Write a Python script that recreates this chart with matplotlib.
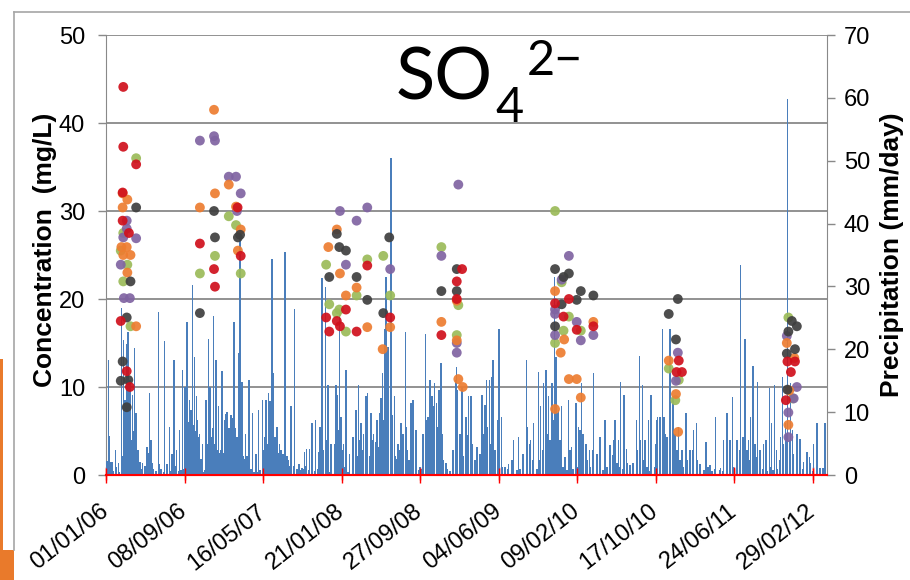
import matplotlib
matplotlib.use('Agg')
import matplotlib.pyplot as plt
import matplotlib.dates as mdates
import pandas as pd
from matplotlib.patches import Rectangle
from matplotlib.lines import Line2D

plt.rcParams['font.family'] = ['Liberation Sans', 'DejaVu Sans']

START = pd.Timestamp('2006-01-01')
X_END_DAY = 2296
DATE_TICK_DAYS = [0, 250, 500, 750, 1000, 1250, 1500, 1750, 2000, 2250]
CONC_TICKS = [0, 10, 20, 30, 40, 50]
PRECIP_TICKS = [0, 10, 20, 30, 40, 50, 60, 70]

# daily precipitation (mm/day), day offset from 01/01/06 -- main rain events
precip_day = [
    8, 11, 21, 30, 40, 49, 55, 60, 66, 70, 76, 85, 91, 96, 102, 117, 130, 138, 143, 149,
    168, 175, 187, 196, 202, 210, 217, 225, 234, 244, 252, 258, 265, 271, 276, 281, 289,
    297, 308, 318, 327, 331, 342, 350, 359, 369, 377, 382, 387, 395, 403, 408, 416, 423,
    427, 433, 444, 456, 467, 478, 486, 499, 510, 517, 522, 529, 533, 544, 552, 563, 570,
    579,
    589, 600, 614, 624, 632, 639, 648, 656, 667, 677, 688, 699, 703, 707, 717, 727, 733,
    738, 743, 749, 756, 764, 775, 786, 796, 805, 812, 820, 828, 833, 844, 851, 858, 866,
    876, 881, 887, 892, 898, 907, 913, 919, 930, 940, 945, 953, 961, 971, 977, 987, 1000,
    1009, 1017, 1025, 1032, 1038, 1046, 1053, 1060, 1067, 1072, 1083, 1104, 1113, 1117,
    1120, 1125, 1134, 1136, 1147, 1149, 1155,
    1162, 1181, 1197, 1207, 1212, 1221, 1228, 1232, 1239, 1252, 1260, 1271, 1282, 1297,
    1313, 1327, 1340, 1351, 1361, 1377, 1384, 1393, 1401, 1409, 1420, 1428, 1433, 1441,
    1451, 1462, 1473, 1483, 1497, 1504, 1515, 1529, 1539, 1552, 1563, 1573,
    1589, 1605, 1616, 1621, 1632, 1639, 1650, 1658, 1669, 1677, 1690, 1699, 1709, 1717,
    1727, 1735, 1749, 1756, 1762, 1772, 1777, 1786, 1796, 1805, 1812, 1823, 1834, 1847,
    1860, 1871, 1881, 1892, 1911, 1924, 1940, 1956, 1966, 1977, 1987, 1996, 2009, 2021,
    2028, 2035, 2046, 2053, 2060, 2067, 2075, 2083, 2094, 2102, 2113, 2120, 2128, 2136,
    2147, 2155, 2163, 2170, 2179, 2187, 2200, 2210, 2221, 2232, 2240, 2253, 2264, 2274,
    2283, 2290,
]
precip_mm = [
    18.3, 6.2, 2.1, 3.9, 1.9, 26.5, 21.5, 11.9, 20.8, 22.8, 15.1, 12.7, 20.2, 9.8, 3.3, 1.9, 4.3, 13.1, 5.6, 1.9,
    25.9, 1.0, 21.3, 1.6, 7.7, 3.4, 18.3, 4.0, 7.2, 16.7, 14.0, 24.4, 11.9, 10.3, 30.2, 18.8, 12.5,
    6.6, 5.0, 11.9, 21.7, 14.0, 25.3, 18.3, 10.9, 16.6, 8.8, 9.7, 4.5, 7.2, 7.7, 24.4, 5.6, 19.4,
    38.4, 14.8, 6.6, 15.1, 9.8, 3.4, 10.3, 11.9, 11.9, 13.0, 11.7, 34.3, 16.2, 7.7, 5.0, 3.4, 35.4,
    2.4,
    10.9, 26.4, 1.8, 1.1, 3.7, 4.2, 4.2, 8.2, 8.8, 3.7, 31.4, 29.9, 5.6, 14.3, 5.0, 5.0, 14.3,
    12.7, 26.2, 9.3, 5.0, 16.7, 3.4, 6.1, 10.3, 14.3, 8.2, 6.6, 12.5, 13.0, 9.8, 6.6, 5.3, 4.5,
    12.3, 16.3, 23.3, 31.5, 20.4, 50.5, 9.5, 12.5, 5.0, 8.2, 6.1, 22.8, 4.0, 11.4, 11.9, 4.0, 1.3,
    4.0, 22.4, 9.3, 15.1, 12.5, 14.6, 11.4, 13.5, 17.8, 6.6, 1.9, 4.0, 15.1, 17.2,
    13.5, 4.0, 14.0, 6.1, 9.3, 6.4, 12.5,
    12.5, 4.5, 12.7, 11.1, 15.1, 15.1, 15.6, 18.3, 4.0, 23.3, 9.3, 1.3, 1.8, 5.6,
    6.1, 1.6, 18.3, 5.6, 8.2, 16.4, 10.9, 14.6, 16.7, 12.5, 14.6, 31.5, 18.8, 10.3,
    10.9, 2.9, 11.9, 4.5, 11.4, 7.7, 14.6, 5.0, 4.0, 16.3, 3.4, 6.1,
    8.7, 4.8, 5.6, 8.7, 5.6, 14.8, 12.7, 4.2, 1.6, 1.8, 8.7, 18.9, 14.3, 5.6,
    8.7, 12.7, 5.0, 9.3, 9.3, 23.3, 9.3, 6.1, 23.3, 12.2, 4.0, 7.7, 4.0, 9.8,
    4.0, 7.2, 8.2, 1.8, 5.3, 1.6, 9.3, 1.1, 5.6, 9.8, 5.6, 12.4, 5.6, 33.4,
    6.1, 21.7, 5.6, 9.3, 17.3, 5.0, 14.8, 4.0, 5.0, 5.6, 13.8, 8.2, 14.3, 4.0,
    6.1, 15.6, 8.2, 59.8, 14.6, 7.2, 6.6, 5.8, 2.1, 3.7, 2.9, 5.0, 8.2, 1.1,
    1.1, 8.2,
]

# daily precipitation (mm/day) -- the many small rain days between the events
light_day = [
    3, 10, 16, 22, 32, 41, 51, 57, 64, 70, 76, 83, 89, 96, 102, 108, 115, 124, 131, 137,
    143, 150, 159, 169, 175, 185, 194, 204, 213, 223, 233, 239, 248, 258, 264, 271, 277,
    283, 290, 296, 303, 309, 315, 322, 328, 334, 341, 347, 354, 360, 366, 373, 379, 385,
    392, 398, 404, 411, 417, 424, 430, 436, 443, 449, 455, 462, 471, 481, 490, 500, 506,
    513, 519, 526, 532, 538, 545, 551, 557, 564, 570, 576, 583, 589, 599, 608, 618, 627,
    637, 647, 656, 666, 675,
    682, 691, 704, 713, 729, 736, 739, 745, 752, 758, 771, 787, 799, 809, 819, 831, 841,
    850, 863, 873, 879, 882, 889, 898, 911, 920, 927, 936, 946, 956, 965, 978, 987, 997,
    1006, 1010, 1022, 1032, 1041, 1054, 1064, 1073, 1086, 1096, 1105, 1118, 1127, 1137,
    1150, 1166, 1175, 1191, 1201, 1213, 1223, 1229, 1239, 1249, 1261, 1271, 1280, 1293,
    1309, 1319, 1328, 1341, 1350, 1360, 1373, 1382, 1392, 1405, 1414, 1424, 1436, 1446,
    1456, 1468, 1478, 1487, 1500,
    1510, 1519, 1532, 1542, 1551, 1564, 1573, 1583, 1596, 1605, 1615, 1628, 1637, 1647,
    1659, 1669, 1678, 1691, 1701, 1710, 1723, 1733, 1749, 1755, 1764, 1774, 1780, 1787,
    1796, 1806, 1812, 1819, 1828, 1838, 1850, 1860, 1870, 1882, 1892, 1905, 1917, 1930,
    1940, 1956, 1965, 1978, 1987, 1997, 2010, 2019, 2029, 2042, 2051, 2061, 2073, 2083,
    2093, 2105, 2115, 2124, 2137, 2147, 2156, 2169, 2178, 2188, 2201, 2210, 2220, 2233,
    2242, 2252, 2265, 2274, 2290,
]
light_mm = [
    2.3, 1.0, 2.1, 0.6, 1.2, 0.5, 3.0, 6.0, 5.0, 6.5, 4.0, 5.5, 7.0, 8.0, 4.0, 2.0, 1.0, 1.5, 4.5, 3.5,
    4.5, 1.0, 0.6, 1.8, 1.0, 0.5, 1.8, 0.6, 0.5, 1.5, 0.6, 0.8, 1.0, 6.0, 8.5, 6.5, 8.0,
    7.0, 8.7, 6.0, 2.5, 0.5, 0.8, 5.0, 7.7, 6.0, 7.5, 5.0, 4.0, 3.5, 4.0, 3.5, 8.0, 10.0,
    7.5, 9.5, 9.0, 7.5, 6.0, 8.0, 4.0, 3.0, 2.5, 3.0, 2.0, 1.0, 0.5, 0.5, 0.8, 4.0, 6.0,
    5.0, 7.0, 6.5, 5.0, 6.0, 4.0, 3.5, 4.0, 3.0, 6.0, 3.0, 1.5, 1.2, 1.5, 1.0, 0.8, 1.0,
    1.5, 0.8, 1.2, 0.6, 1.0,
    7.7, 4.0, 0.5, 0.5, 1.3, 5.6, 7.2, 7.7, 4.0, 1.3, 0.5, 2.4, 3.0, 5.6, 4.0, 5.0, 3.0,
    5.6, 8.7, 9.8, 10.9, 8.7, 4.0, 1.3, 1.0, 3.0, 2.5, 4.0, 6.6, 7.7, 2.4, 5.0, 7.2, 0.8,
    1.0, 6.6, 8.7, 9.8, 10.9, 7.7, 4.0, 2.4, 1.0, 0.6, 4.0, 8.7, 6.6, 3.0,
    1.0, 5.0, 2.4, 3.4, 6.6, 7.7, 5.0, 5.6, 4.0, 8.7, 1.3, 0.8, 1.0, 2.4,
    0.8, 1.0, 3.4, 7.7, 5.0, 2.4, 1.0, 2.4, 4.0, 6.6, 5.6, 8.7, 9.8, 5.6,
    1.3, 0.8, 4.0, 1.0, 1.3,
    7.2, 6.6, 2.4, 1.3, 4.0, 1.3, 1.0, 0.8, 1.3, 3.7, 3.2, 1.9, 1.3, 1.0,
    1.9, 0.8, 1.9, 4.0, 5.6, 2.4, 1.3, 0.6, 1.3, 8.7, 9.3, 7.7, 6.6, 5.0,
    8.7, 5.6, 6.6, 4.0, 2.4, 1.3, 2.4, 1.3, 4.0, 2.4, 1.0, 0.8, 1.3, 0.6,
    1.0, 0.8, 0.6, 1.3, 0.6, 1.3, 3.4, 4.0, 5.6, 4.0, 2.4, 4.0, 2.9, 1.3,
    1.0, 0.6, 1.3, 0.8, 1.0, 2.4, 5.0, 6.6, 5.6, 3.4, 1.3, 0.8, 1.0, 1.3,
    1.9, 0.6, 1.9, 0.8, 1.3,
]

# SO4 concentrations (mg/L) by sampling site colour
green_day = [96, 55, 47, 68, 55, 78, 391, 414, 347, 299, 429, 883, 832, 701, 798, 905, 711, 743, 735, 764,
             1068, 1122, 1117, 1430, 1451, 1474, 1512, 1457, 1430, 1792, 1824, 1813, 2173, 2187]
green_conc = [36.0, 27.5, 25.5, 23.9, 22.0, 16.9, 29.4, 28.4, 24.9, 22.9, 22.9, 24.9, 24.5, 23.9, 20.4, 20.4, 19.4, 18.8, 18.4, 16.3,
              25.9, 19.3, 15.9, 30.0, 21.9, 18.0, 16.4, 16.4, 15.0, 12.1, 10.8, 8.5, 17.9, 8.7]

purple_day = [66, 66, 55, 96, 47, 57, 76, 299, 344, 347, 391, 414, 429, 417, 745, 832, 798, 764, 905,
              1122, 1068, 1117, 1117, 1474, 1451, 1430, 1430, 1499, 1430, 1512, 1552, 1821, 1815,
              2168, 2200, 2190, 2173, 2173]
purple_conc = [28.9, 28.0, 27.0, 26.9, 23.9, 20.1, 20.1, 38.0, 38.5, 38.0, 33.9, 33.9, 32.0, 30.0, 30.0, 30.4, 28.9, 23.9, 23.4,
               33.0, 24.9, 15.0, 13.9, 24.9, 22.2, 18.8, 18.3, 17.4, 15.9, 15.3, 15.9, 13.9, 10.7,
               15.8, 10.0, 8.7, 7.1, 4.3]

orange_day = [53, 68, 53, 66, 49, 55, 78, 68, 96, 344, 391, 347, 299, 414, 429, 420,
              735, 708, 745, 798, 764, 832, 905, 881, 1117, 1068, 1117, 1122, 1136,
              1430, 1552, 1459, 1448, 1474, 1499, 1512, 1430, 1792, 1815, 1822, 2168, 2192, 2176, 2173]
orange_conc = [32.0, 31.3, 30.4, 25.9, 25.9, 25.0, 25.0, 23.0, 16.9, 41.5, 33.0, 32.0, 30.4, 30.5, 27.9, 25.5,
               27.9, 25.9, 22.9, 21.3, 20.4, 16.8, 16.8, 14.3, 19.8, 17.4, 15.3, 10.9, 10.0,
               20.9, 17.4, 15.4, 13.9, 10.9, 10.9, 8.8, 7.5, 13.0, 9.2, 4.9, 15.0, 13.3, 9.6, 5.7]

black_day = [96, 78, 66, 53, 47, 71, 66, 344, 347, 420, 427, 299, 735, 743, 764, 902, 711, 798, 832, 883,
             1117, 1068, 1117, 1430, 1474, 1457, 1512, 1552, 1499, 1451, 1430, 1821, 1792, 1815,
             2184, 2200, 2173, 2168, 2194, 2170]
black_conc = [30.4, 22.0, 17.9, 12.9, 10.7, 10.8, 7.7, 30.0, 27.0, 27.0, 27.3, 18.4, 27.4, 25.9, 25.5, 27.0, 22.5, 22.5, 19.9, 18.4,
              23.4, 20.9, 20.9, 23.4, 22.9, 22.5, 20.9, 20.4, 19.9, 19.4, 16.9, 20.0, 18.3, 15.4,
              17.5, 16.9, 16.3, 13.8, 14.3, 9.7]

red_day = [55, 55, 96, 53, 53, 73, 47, 66, 76, 419, 299, 429, 344, 347, 832, 764, 701, 735, 905, 745, 711, 798,
           1134, 1117, 1117, 1068, 1474, 1430, 1457, 1552, 1499, 1824, 1817, 1834, 2170, 2194, 2181, 2165]
red_conc = [44.1, 37.3, 35.3, 32.1, 28.9, 27.5, 17.5, 11.8, 10.0, 30.4, 26.3, 24.9, 23.4, 21.4, 23.8, 18.8, 17.9, 17.5, 17.9, 16.9, 16.3, 16.3,
            23.4, 22.0, 20.0, 15.9, 20.0, 19.5, 18.0, 16.9, 16.5, 13.0, 11.7, 11.7, 12.9, 12.9, 11.7, 8.5]


def to_dates(days):
    return [START + pd.Timedelta(days=d) for d in days]


W, H = 910, 580
fig = plt.figure(figsize=(W / 100, H / 100), dpi=100)
fig.patch.set_facecolor('white')

rect = [106 / W, 1 - 475 / H, (827 - 106) / W, (475 - 35) / H]
axC = fig.add_axes(rect)
axP = axC.twinx()
axS = axC.twinx()
axC.set_zorder(1)
axP.set_zorder(2)
axS.set_zorder(3)
for a in (axP, axS):
    a.patch.set_visible(False)

GRID = '#898989'
# concentration axis (grid + left ticks)
axC.set_ylim(0, 50)
axC.set_yticks(CONC_TICKS)
axC.yaxis.grid(True, color=GRID, lw=1.3)
axC.set_axisbelow(True)
axC.tick_params(axis='y', direction='out', length=6, width=1, color=GRID,
                labelsize=17, pad=9)
for s in ('top', 'right'):
    axC.spines[s].set_visible(False)
axC.spines['left'].set_color(GRID)
axC.spines['bottom'].set_color('#FF0000')
axC.spines['bottom'].set_linewidth(1.5)

axC.set_xlim(START, START + pd.Timedelta(days=X_END_DAY))
axC.set_xticks(to_dates(DATE_TICK_DAYS))
axC.xaxis.set_major_formatter(mdates.DateFormatter('%d/%m/%y'))
axC.tick_params(axis='x', direction='inout', length=11, width=1, color='#FF0000',
                labelsize=17, pad=19)
for lbl in axC.get_xticklabels():
    lbl.set_rotation(38)
    lbl.set_ha('right')
    lbl.set_va('center')
    lbl.set_rotation_mode('anchor')

# precipitation bars
BAR = '#4A7EBB'
axP.bar(to_dates(light_day), light_mm, width=5.0, color=BAR, linewidth=0)
axP.bar(to_dates(precip_day), precip_mm, width=4.5, color=BAR, linewidth=0)
axP.set_ylim(0, 70)
axP.set_yticks(PRECIP_TICKS)
axP.tick_params(axis='y', direction='out', length=6, width=1, color=GRID,
                labelsize=17, pad=6)
for s in ('top', 'left', 'bottom'):
    axP.spines[s].set_visible(False)
axP.spines['right'].set_color(GRID)

# concentration scatter
axS.set_ylim(0, 50)
axS.set_yticks([])
for s in axS.spines.values():
    s.set_visible(False)
# red zero line of the date axis, drawn above the bars
axS.axhline(0, color='#FF0000', lw=1.5, clip_on=False, zorder=1)
axS.vlines(to_dates(DATE_TICK_DAYS), -0.55, 0.75, color='#FF0000', lw=1, clip_on=False, zorder=1)
series = [
    (green_day, green_conc, '#9BBB59'),
    (purple_day, purple_conc, '#8064A2'),
    (orange_day, orange_conc, '#ED7D31'),
    (black_day, black_conc, '#3F3F3F'),
    (red_day, red_conc, '#D0101C'),
]
for d, c, col in series:
    axS.scatter(to_dates(d), c, s=50, color=col, edgecolors='none', alpha=0.92, zorder=3)

# axis titles
fig.text(45 / W, 1 - 250 / H, 'Concentration  (mg/L)', rotation=90, ha='center',
         va='center', fontsize=19, fontweight='bold')
fig.text(892 / W, 1 - 255 / H, 'Precipitation (mm/day)', rotation=90, ha='center',
         va='center', fontsize=19, fontweight='bold')

# chart title SO4 2-
tfam = ['Lato', 'DejaVu Sans']
renderer = fig.canvas.get_renderer()
t1 = fig.text(396 / W, 1 - 100 / H, 'SO', fontsize=52, family=tfam, va='baseline', ha='left')
bb1 = t1.get_window_extent(renderer)
t2 = fig.text((bb1.x1 + 2) / W, 1 - 122 / H, '4', fontsize=35, family=tfam, va='baseline', ha='left')
bb2 = t2.get_window_extent(renderer)
fig.text((bb2.x1 + 3) / W, 1 - 75 / H, '2\u2212', fontsize=35, family=tfam, va='baseline', ha='left')

# slide frame decorations
fig.add_artist(Line2D([14 / W, 1], [1 - 12 / H, 1 - 12 / H], color='#A6A6A6', lw=1.2,
                      transform=fig.transFigure))
fig.add_artist(Line2D([14 / W, 14 / W], [1 - 12 / H, 1 - 550 / H], color='#A6A6A6', lw=1.2,
                      transform=fig.transFigure))
fig.add_artist(Rectangle((0, 1 - 550 / H), 3 / W, (550 - 359) / H, color='#E97A2B',
                         transform=fig.transFigure, lw=0))
fig.add_artist(Rectangle((0, 0), 14 / W, 30 / H, color='#E97A2B',
                         transform=fig.transFigure, lw=0))

fig.savefig('out.png', dpi=100, facecolor='white')
